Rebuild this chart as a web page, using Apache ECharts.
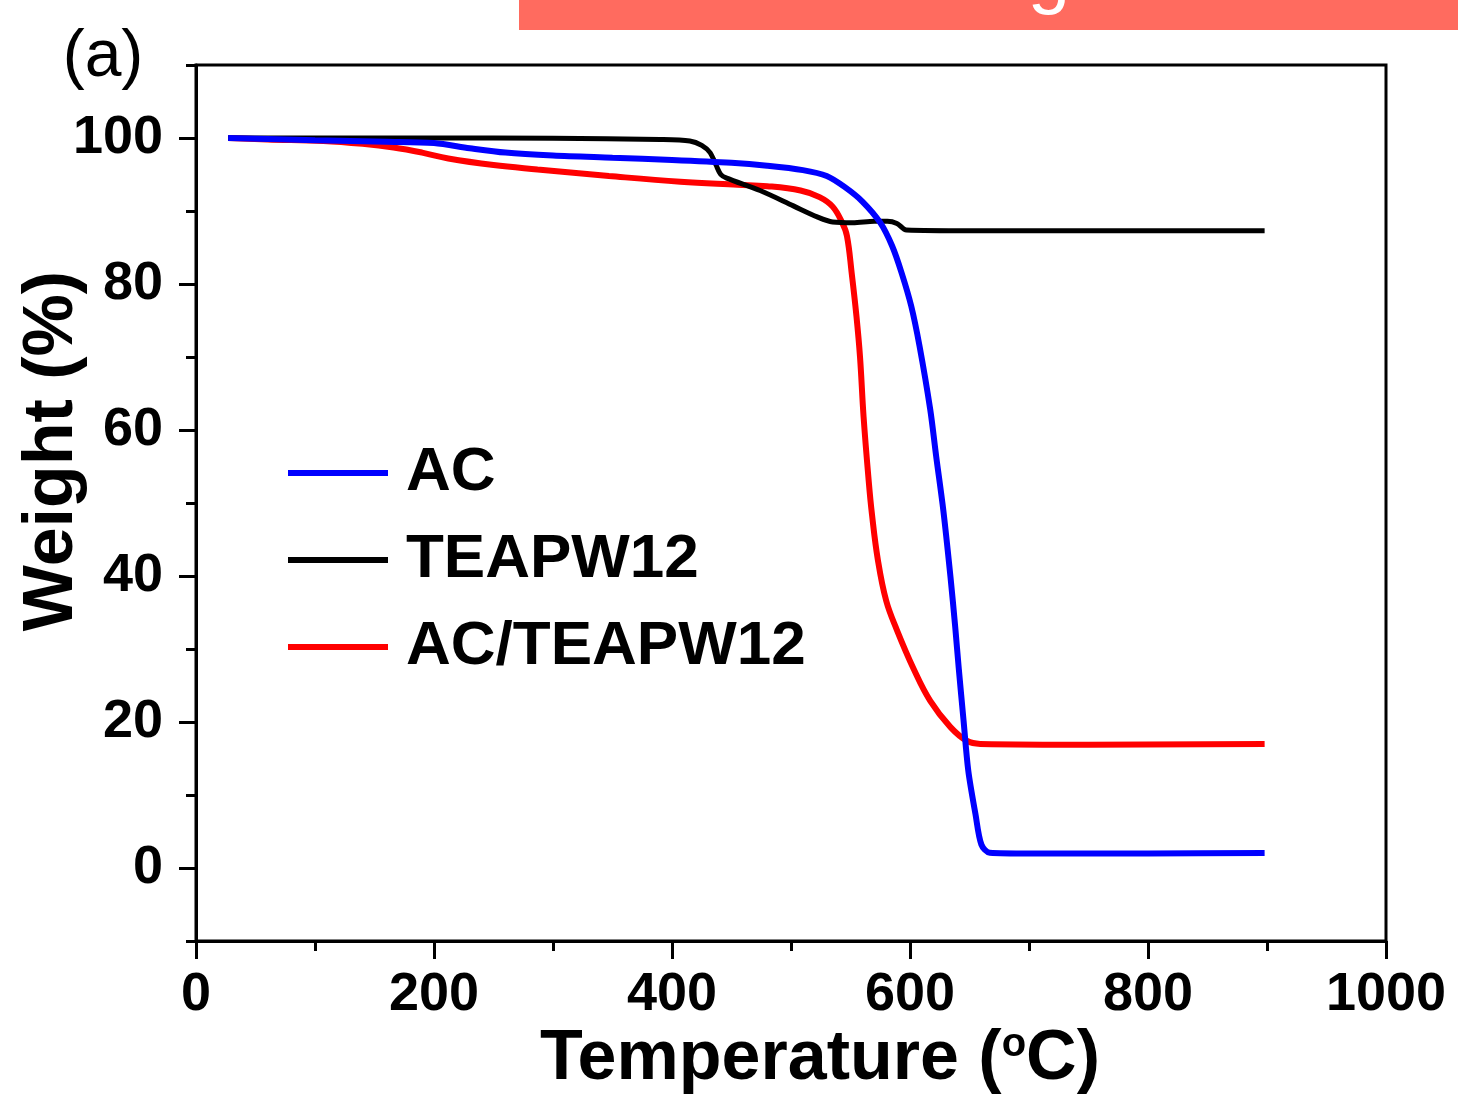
<!DOCTYPE html>
<html>
<head>
<meta charset="utf-8">
<script src="https://cdn.jsdelivr.net/npm/echarts@6/dist/echarts.min.js"></script>
<style>
  html, body { margin: 0; padding: 0; background: #fff; }
  #chart { width: 1458px; height: 1097px; }
</style>
</head>
<body>
<div id="chart"></div>
<script>
// 数据
const acTemp = [27, 100, 160, 200, 230, 260, 300, 350, 400, 450, 480, 510, 530, 545, 560, 575, 585, 593, 601, 608, 617, 622, 628, 634, 638, 641, 645, 649, 655, 660, 667, 700, 800, 898]
const acWeight = [100, 99.7, 99.5, 99.3, 98.6, 98.0, 97.6, 97.3, 97.0, 96.6, 96.2, 95.6, 94.8, 93.3, 91.3, 88.4, 85.2, 81.5, 77.0, 71.5, 62.8, 56.4, 49.0, 39.9, 33.0, 27.3, 20.2, 13.3, 7.4, 3.2, 2.1, 2.0, 2.0, 2.06]

const teaTemp = [27, 100, 200, 300, 390, 415, 425, 432, 437, 441, 446, 474, 502, 522, 535, 552, 570, 581, 589, 597, 650, 750, 898]
const teaWeight = [100, 100, 100, 99.95, 99.8, 99.6, 99.0, 98.0, 96.3, 95.0, 94.5, 92.8, 90.7, 89.2, 88.5, 88.4, 88.6, 88.6, 88.3, 87.4, 87.3, 87.3, 87.3]

const compTemp = [27, 60, 107, 140, 166, 190, 212, 250, 287, 347, 407, 455, 480, 508, 524, 535, 543, 547, 551, 555, 558, 561, 565, 568, 573, 580, 589, 603, 617, 634, 648, 659, 750, 898]
const compWeight = [100, 99.8, 99.6, 99.2, 98.7, 98.0, 97.2, 96.3, 95.7, 94.8, 94.0, 93.6, 93.4, 92.8, 91.9, 90.6, 88.4, 86.6, 81.5, 75.6, 70.0, 61.8, 53.6, 48.5, 42.2, 36.6, 32.6, 27.3, 22.9, 19.3, 17.4, 17.0, 16.9, 17.0]

const seriesNames = ['AC', 'TEAPW12', 'AC/TEAPW12']
const yMajorTicks = [0, 20, 40, 60, 80, 100]
const yMinorTicks = [-10, 10, 30, 50, 70, 90, 110]

const FONT = 'Liberation Sans, Arial, sans-serif'

const zip = (xs, ys) => xs.map((x, i) => [x, ys[i]])

const chart = echarts.init(document.getElementById('chart'))

const yBase = {
  type: 'value',
  min: -10,
  max: 110,
  position: 'left',
  splitLine: { show: false },
}

const option = {
  animation: false,
  backgroundColor: '#fff',
  grid: {
    left: 196,
    top: 65,
    right: 72,
    bottom: 156,
    outerBoundsMode: 'none',
    containLabel: false,
    show: true,
    borderColor: '#000',
    borderWidth: 3,
  },
  legend: {
    data: seriesNames,
    orient: 'vertical',
    left: 283,
    top: 437,
    icon: 'rect',
    itemWidth: 100,
    itemHeight: 6,
    itemGap: 25,
    textStyle: {
      fontSize: 62,
      fontWeight: 'bold',
      fontFamily: FONT,
      color: '#000',
      padding: [0, 0, 0, 13],
    },
  },
  xAxis: {
    type: 'value',
    min: 0,
    max: 1000,
    interval: 200,
    name: 'Temperature ({sup|o}C)',
    nameLocation: 'middle',
    nameGap: 84,
    nameMoveOverlap: false,
    nameTextStyle: {
      fontSize: 70,
      fontWeight: 'bold',
      fontFamily: FONT,
      color: '#000',
      padding: [0, 0, 0, 58],
      rich: {
        sup: {
          fontSize: 40,
          fontWeight: 'bold',
          fontFamily: FONT,
          color: '#000',
          verticalAlign: 'top',
          padding: [0, 0, 30, 0],
        },
      },
    },
    axisLine: { onZero: false, lineStyle: { color: '#000', width: 3 } },
    axisTick: { inside: false, length: 18, lineStyle: { color: '#000', width: 3 } },
    minorTick: { show: true, splitNumber: 2, length: 10, lineStyle: { color: '#000', width: 3 } },
    axisLabel: {
      margin: 27,
      fontSize: 54,
      fontWeight: 'bold',
      fontFamily: FONT,
      color: '#000',
      formatter: v => String(v),
    },
    splitLine: { show: false },
  },
  yAxis: [
    {
      ...yBase,
      name: 'Weight (%)',
      nameLocation: 'middle',
      nameGap: 108,
      nameMoveOverlap: false,
      nameTextStyle: {
        fontSize: 70,
        fontWeight: 'bold',
        fontFamily: FONT,
        color: '#000',
        padding: [0, 0, 0, 104],
      },
      axisLine: { onZero: false, lineStyle: { color: '#000', width: 3 } },
      axisTick: { customValues: yMajorTicks, length: 17, lineStyle: { color: '#000', width: 3 } },
      axisLabel: {
        customValues: yMajorTicks,
        margin: 33,
        fontSize: 54,
        fontWeight: 'bold',
        fontFamily: FONT,
        color: '#000',
      },
    },
    {
      // 次刻度
      ...yBase,
      axisLine: { show: false, onZero: false },
      axisTick: { customValues: yMinorTicks, length: 10, lineStyle: { color: '#000', width: 3 } },
      axisLabel: { show: false },
    },
  ],
  series: [
    {
      name: 'AC/TEAPW12',
      type: 'line',
      data: zip(compTemp, compWeight),
      symbol: 'none',
      smooth: 0.4,
      lineStyle: { color: '#ff0000', width: 6 },
      itemStyle: { color: '#ff0000' },
    },
    {
      name: 'TEAPW12',
      type: 'line',
      data: zip(teaTemp, teaWeight),
      symbol: 'none',
      smooth: 0.3,
      lineStyle: { color: '#000000', width: 5 },
      itemStyle: { color: '#000000' },
    },
    {
      name: 'AC',
      type: 'line',
      data: zip(acTemp, acWeight),
      symbol: 'none',
      smooth: 0.3,
      lineStyle: { color: '#0000ff', width: 6 },
      itemStyle: { color: '#0000ff' },
    },
  ],
  graphic: [
    // 顶部被裁切的红色标题栏
    {
      type: 'rect',
      left: 519,
      top: 0,
      shape: { width: 939, height: 30 },
      style: { fill: '#ff6b5f' },
      z: 10,
    },
    {
      type: 'text',
      x: 1049,
      y: -22,
      style: {
        text: 'g',
        fill: '#fff',
        fontSize: 76,
        fontFamily: FONT,
        align: 'center',
        verticalAlign: 'middle',
      },
      z: 11,
    },
    {
      type: 'text',
      x: 103,
      y: 58,
      style: {
        text: '(a)',
        fill: '#000',
        fontSize: 66,
        fontFamily: FONT,
        align: 'center',
        verticalAlign: 'middle',
      },
    },
  ],
}

chart.setOption(option)
</script>
</body>
</html>
